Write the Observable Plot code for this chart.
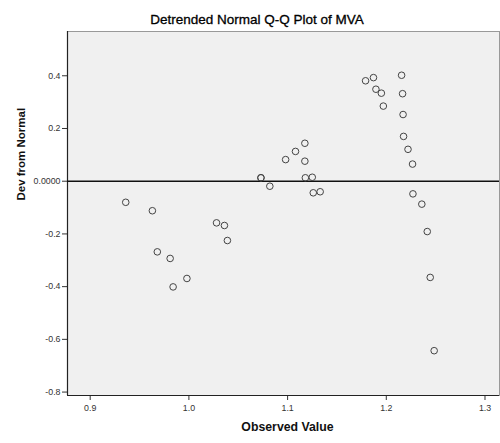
<!DOCTYPE html>
<html><head><meta charset="utf-8">
<script src="https://cdn.jsdelivr.net/npm/d3@7"></script>
<script src="https://cdn.jsdelivr.net/npm/@observablehq/plot@0.6"></script>
<style>
body{margin:0;background:#fff;font-family:"Liberation Sans",Arial,sans-serif;}
#wrap{position:relative;width:500px;height:443px;}
#title{position:absolute;left:0;top:13px;width:514px;line-height:13.5px;text-align:center;font-size:13.5px;font-weight:normal;color:#000;-webkit-text-stroke:0.3px #000;white-space:nowrap;}
#chart{position:absolute;left:0;top:30px;}
</style></head><body>
<div id="wrap">
<div id="title">Detrended Normal Q-Q Plot of MVA</div>
<div id="chart"></div>
</div>
<script>
const observed = [0.936, 0.963, 0.968, 0.981, 0.984, 0.998, 1.028, 1.036, 1.039,
  1.073, 1.073, 1.082, 1.098, 1.108, 1.1175, 1.1175, 1.118, 1.125, 1.126, 1.133,
  1.179, 1.187, 1.1895, 1.195, 1.197, 1.2155, 1.2165, 1.217, 1.2175, 1.222, 1.2266,
  1.227, 1.236, 1.2415, 1.2445, 1.2485];
const deviation = [-0.080, -0.112, -0.268, -0.293, -0.401, -0.369, -0.158, -0.168, -0.225,
  0.013, 0.013, -0.019, 0.082, 0.113, 0.144, 0.076, 0.013, 0.015, -0.044, -0.040,
  0.381, 0.393, 0.349, 0.334, 0.285, 0.402, 0.332, 0.253, 0.170, 0.121, 0.065,
  -0.048, -0.087, -0.191, -0.365, -0.643];
const xTicks = [0.9, 1.0, 1.1, 1.2, 1.3];
const xTickLabels = ["0.9", "1.0", "1.1", "1.2", "1.3"];
const yTicks = [-0.8, -0.6, -0.4, -0.2, 0, 0.2, 0.4];
const yTickLabels = ["-0.8", "-0.6", "-0.4", "-0.2", "0.0000", "0.2", "0.4"];
const xTitle = "Observed Value";
const yTitle = "Dev from Normal";

const points = observed.map((x, i) => ({x, y: deviation[i]}));
const fmtX = d => xTickLabels[xTicks.findIndex(t => Math.abs(t - d) < 1e-9)];
const fmtY = d => yTickLabels[yTicks.findIndex(t => Math.abs(t - d) < 1e-9)];

const chart = Plot.plot({
  width: 500,
  height: 413,
  marginTop: 1,
  marginLeft: 67,
  marginRight: 1,
  marginBottom: 48,
  style: {fontFamily: "'Liberation Sans', Arial, sans-serif", fontSize: "8.8px", color: "#333", background: "#fff"},
  x: {domain: [0.877, 1.3147], label: null},
  y: {domain: [-0.813, 0.568], label: null},
  marks: [
    Plot.frame({fill: "#f0f0f0", stroke: "#999"}),
    Plot.axisX({ticks: xTicks, tickFormat: fmtX, tickSize: 5, tickPadding: 4, label: null, stroke: "#333"}),
    Plot.axisY({ticks: yTicks, tickFormat: fmtY, tickSize: 5, tickPadding: 2, label: null, stroke: "#333"}),
    Plot.ruleX([0.877], {stroke: "#222", strokeWidth: 1.2}),
    Plot.ruleY([-0.813], {stroke: "#222", strokeWidth: 1.2}),
    Plot.ruleY([0], {stroke: "#111", strokeWidth: 1.5}),
    Plot.dot(points, {x: "x", y: "y", r: 3.3, stroke: "#444", strokeWidth: 1, fill: "none"}),
    Plot.text([yTitle], {frameAnchor: "left", dx: -46, dy: -13, rotate: -90, fontSize: 11.5, fontWeight: "bold", fill: "#111"}),
    Plot.text([xTitle], {frameAnchor: "bottom", dx: 4, dy: 35, fontSize: 12.3, fontWeight: "bold", fill: "#111"})
  ]
});
document.getElementById("chart").appendChild(chart);
</script>
</body></html>
